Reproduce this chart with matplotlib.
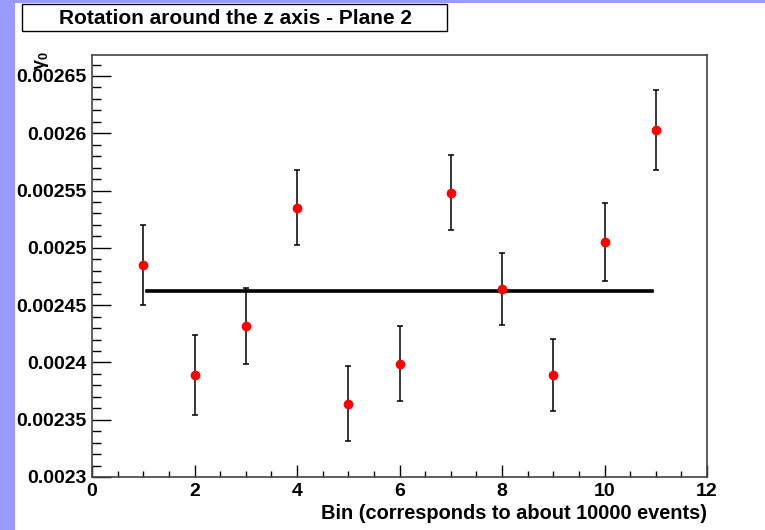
import numpy as np
import matplotlib
matplotlib.use("Agg")
import matplotlib.pyplot as plt
from matplotlib.patches import Rectangle
from matplotlib.ticker import MultipleLocator

# gamma_0 per bin, with errors, and the constant fit over bins 1-11
bins = np.arange(1, 12)
gamma0 = [0.002485, 0.002389, 0.002432, 0.002535, 0.002364, 0.002399,
          0.002548, 0.002464, 0.002389, 0.002505, 0.002603]
gamma0_err = [0.0000349, 0.000035, 0.0000332, 0.0000327, 0.0000327, 0.000033,
              0.0000327, 0.0000314, 0.0000314, 0.000034, 0.000035]
fit_value = 0.002462
fit_range = [1.07, 10.93]

title = "Rotation around the z axis - Plane 2"
xtitle = "Bin (corresponds to about 10000 events)"

plt.rcParams['font.family'] = ['Liberation Sans', 'DejaVu Sans']
plt.rcParams['font.weight'] = 'bold'
plt.rcParams['mathtext.fontset'] = 'custom'
plt.rcParams['mathtext.rm'] = 'Liberation Sans:bold'

fig = plt.figure(figsize=(7.65, 5.30), dpi=100)
fig.patch.set_facecolor('white')
# canvas border strips
fig.patches.append(Rectangle((0, 0), 15 / 765, 1, transform=fig.transFigure,
                             facecolor='#9999ff', edgecolor='none', zorder=0))
fig.patches.append(Rectangle((0, 1 - 3 / 530), 1, 3 / 530, transform=fig.transFigure,
                             facecolor='#9999ff', edgecolor='none', zorder=0))

ax = fig.add_axes([92 / 765, 53 / 530, 615 / 765, 422 / 530])

ax.errorbar(bins, gamma0, yerr=gamma0_err, fmt='o', color='red', ms=6,
            ecolor='black', elinewidth=1.1, capsize=2.5, capthick=1.1, zorder=3)
ax.plot(fit_range, [fit_value, fit_value], color='black', lw=2.6, zorder=2)

ax.set_xlim(0, 12)
ax.set_ylim(0.0023, 0.0026683)

ax.xaxis.set_major_locator(MultipleLocator(2))
ax.xaxis.set_minor_locator(MultipleLocator(0.5))
ax.yaxis.set_major_locator(MultipleLocator(0.00005))
ax.yaxis.set_minor_locator(MultipleLocator(0.00001))
ax.yaxis.set_major_formatter(plt.FuncFormatter(lambda v, p: ('%.5f' % v).rstrip('0')))

ax.tick_params(axis='both', which='both', direction='in', colors='black',
               labelsize=14, width=1)
ax.tick_params(axis='x', which='major', length=9, pad=4)
ax.tick_params(axis='x', which='minor', length=4.5)
ax.tick_params(axis='y', which='major', length=13.5, pad=4)
ax.tick_params(axis='y', which='minor', length=6.5)
for s in ax.spines.values():
    s.set_color('#444444')
    s.set_linewidth(1.2)

# lift the lowest y label off the x axis
fig.canvas.draw()
ax.yaxis.get_major_ticks()[0].label1.set_va('bottom')

ax.set_xlabel(xtitle, fontsize=14.4, fontweight='bold', loc='right', labelpad=3)
ax.text(-0.082, 1.01, r'$\mathrm{\gamma}_\mathrm{0}$', transform=ax.transAxes,
        rotation=90, ha='center', va='top', fontsize=13)

# title box
fig.patches.append(Rectangle((22 / 765, 1 - 31 / 530), 425 / 765, 27 / 530,
                             transform=fig.transFigure, facecolor='white',
                             edgecolor='black', lw=1, zorder=1))
fig.text(235 / 765, 1 - 18 / 530, title, ha='center', va='center', fontsize=15,
         fontweight='bold', zorder=2)

fig.savefig('out.png', dpi=100)
